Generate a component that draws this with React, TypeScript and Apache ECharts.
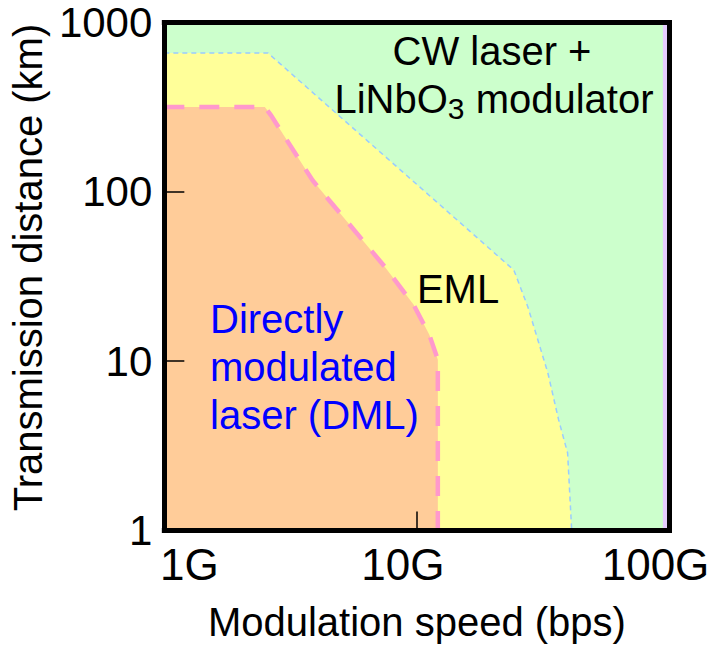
import React, { useEffect, useRef } from 'react';
import * as echarts from 'echarts';

// Tick labels
const xTickLabels = ['1G', '10G', '100G'];
const yTickLabels = ['1', '10', '100', '1000'];

// EML region boundary (speed in Gbps, distance in km)
const emlSpeed = [1, 2.57, 24.2, 27.5, 33.0, 36.4, 39.5, 41.0, 1];
const emlDistance = [661, 661, 34.5, 20.9, 8.51, 4.5, 2.87, 1, 1];

// DML region boundary
const dmlSpeed = [1, 2.5, 2.64, 3.86, 7.47, 9.71, 11.2, 12.1, 12.1, 1];
const dmlDistance = [317, 317, 284, 117, 36, 21.5, 14.3, 10.2, 1, 1];

// thin lavender edge near 100G
const edgeSpeed = [95.9, 95.9];
const edgeDistance = [1, 1000];

const FONT = '"Liberation Sans", Arial, Helvetica, sans-serif';

function regionSeries(name: string, xs: number[], ys: number[], style: any) {
  return {
    type: 'custom',
    name,
    coordinateSystem: 'cartesian2d',
    xAxisIndex: 0,
    yAxisIndex: 0,
    silent: true,
    z: 2,
    data: [[xs[0], ys[0]]],
    renderItem: (_params: any, api: any) => ({
      type: 'polygon',
      shape: { points: xs.map((x, i) => api.coord([x, ys[i]])) },
      style,
    }),
  };
}

export default function App() {
  const ref = useRef<HTMLDivElement>(null);

  useEffect(() => {
    document.body.style.margin = '0';
    if (!ref.current) return;
    const chart = echarts.init(ref.current, undefined, { renderer: 'svg' });
    const frameLine = { color: '#000', width: 5, cap: 'square' };
    const labelStyle = { fontSize: 40, fontFamily: FONT, color: '#000' };
    const xLab = { fontSize: 44, fontFamily: FONT, color: '#000' };
    const option: any = {
      animation: false,
      grid: {
        left: 161,
        right: 50.5,
        top: 22.5,
        bottom: 117.5,
        show: true,
        backgroundColor: '#ccffcc',
        borderWidth: 0,
      },
      xAxis: [
        {
          type: 'log',
          logBase: 10,
          min: 1,
          max: 100,
          position: 'bottom',
          z: 10,
          axisLine: { show: true, onZero: false, lineStyle: frameLine },
          axisTick: { show: true, inside: true, length: 19, lineStyle: { color: '#000', width: 1.5 } },
          minorTick: { show: false },
          splitLine: { show: false },
          axisLabel: {
            ...xLab,
            margin: 12,
            formatter: (v: number) => {
              const i = Math.round(Math.log10(v));
              return `{l${i}|${xTickLabels[i]}}`;
            },
            rich: {
              l0: { ...xLab, padding: [0, 0, 0, 50] },
              l1: { ...xLab, padding: [0, 28, 0, 0] },
              l2: { ...xLab, padding: [0, 28, 0, 0] },
            },
          },
          name: 'Modulation speed (bps)',
          nameLocation: 'middle',
          nameGap: 71,
          nameTextStyle: labelStyle,
        },
        {
          type: 'log',
          logBase: 10,
          min: 1,
          max: 100,
          position: 'top',
          z: 10,
          axisLine: { show: true, onZero: false, lineStyle: frameLine },
          axisTick: { show: false },
          axisLabel: { show: false },
          splitLine: { show: false },
        },
      ],
      yAxis: [
        {
          type: 'log',
          logBase: 10,
          min: 1,
          max: 1000,
          position: 'left',
          z: 10,
          axisLine: { show: true, onZero: false, lineStyle: frameLine },
          axisTick: { show: true, inside: true, length: 20, lineStyle: { color: '#000', width: 1.5 } },
          minorTick: { show: false },
          splitLine: { show: false },
          axisLabel: {
            fontSize: 42,
            fontFamily: FONT,
            color: '#000',
            margin: 12,
            formatter: (v: number) => yTickLabels[Math.round(Math.log10(v))],
          },
          name: 'Transmission distance (km)',
          nameLocation: 'middle',
          nameGap: 108,
          nameTextStyle: { ...labelStyle, padding: [0, 0, 0, 18] },
        },
        {
          type: 'log',
          logBase: 10,
          min: 1,
          max: 1000,
          position: 'right',
          z: 10,
          axisLine: { show: true, onZero: false, lineStyle: frameLine },
          axisTick: { show: false },
          axisLabel: { show: false },
          splitLine: { show: false },
        },
      ],
      series: [
        regionSeries('EML', emlSpeed, emlDistance, {
          fill: '#ffff99',
          stroke: '#99ccff',
          lineWidth: 1.5,
          lineDash: [5, 4],
        }),
        regionSeries('DML', dmlSpeed, dmlDistance, {
          fill: '#ffcc99',
          stroke: '#ff99cc',
          lineWidth: 4.5,
          lineDash: [20, 15],
        }),
        {
          type: 'line',
          name: 'edge',
          xAxisIndex: 0,
          yAxisIndex: 0,
          data: edgeSpeed.map((x, i) => [x, edgeDistance[i]]),
          symbol: 'none',
          silent: true,
          z: 3,
          lineStyle: { color: '#e5ccff', width: 4 },
        },
      ],
      graphic: [
        {
          type: 'text',
          x: 492,
          y: 51,
          z: 100,
          style: {
            text: 'CW laser +',
            fontSize: 40,
            fontFamily: FONT,
            fill: '#000',
            align: 'center',
            verticalAlign: 'middle',
          },
        },
        {
          type: 'text',
          x: 494,
          y: 99,
          z: 100,
          style: {
            text: 'LiNbO{sub|3} modulator',
            fontSize: 40,
            fontFamily: FONT,
            fill: '#000',
            align: 'center',
            verticalAlign: 'middle',
            lineHeight: 48,
            rich: {
              sub: {
                fontSize: 30,
                fontFamily: FONT,
                fill: '#000',
                verticalAlign: 'bottom',
                lineHeight: 30,
              },
            },
          },
        },
        {
          type: 'text',
          x: 458,
          y: 288.5,
          z: 100,
          style: {
            text: 'EML',
            fontSize: 40,
            fontFamily: FONT,
            fill: '#000',
            align: 'center',
            verticalAlign: 'middle',
          },
        },
        {
          type: 'text',
          x: 210,
          y: 367,
          z: 100,
          style: {
            text: 'Directly\nmodulated\nlaser (DML)',
            fontSize: 40,
            fontFamily: FONT,
            fill: '#0000ff',
            align: 'left',
            verticalAlign: 'middle',
            lineHeight: 48,
          },
        },
      ],
    };
    chart.setOption(option);
    return () => chart.dispose();
  }, []);

  return <div ref={ref} style={{ width: 720, height: 648 }} />;
}
